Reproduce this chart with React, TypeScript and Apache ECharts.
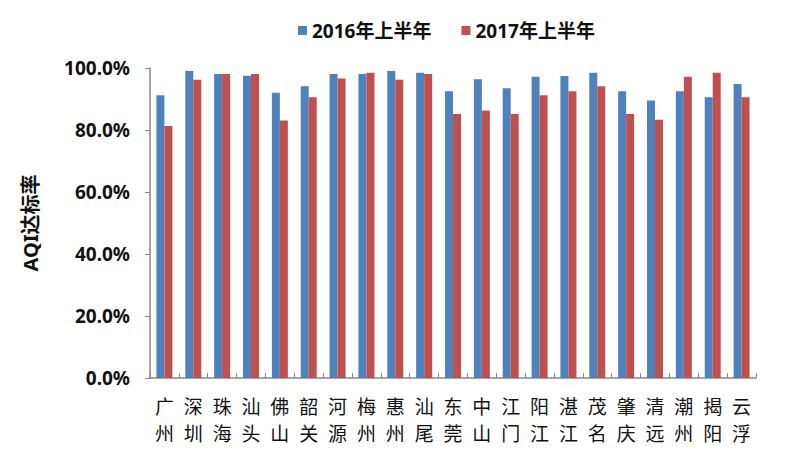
import React, { useEffect, useRef } from "react";
import * as echarts from "echarts";

const categories = [
  "广\n州", "深\n圳", "珠\n海", "汕\n头", "佛\n山", "韶\n关", "河\n源", "梅\n州", "惠\n州", "汕\n尾",
  "东\n莞", "中\n山", "江\n门", "阳\n江", "湛\n江", "茂\n名", "肇\n庆", "清\n远", "潮\n州", "揭\n阳", "云\n浮",
];
const series2016 = [91.2, 99.0, 98.1, 97.5, 92.0, 94.1, 98.1, 98.1, 99.0, 98.5, 92.5, 96.4, 93.5, 97.2, 97.4, 98.5, 92.5, 89.5, 92.5, 90.6, 94.8];
const series2017 = [81.3, 96.2, 98.1, 98.1, 83.1, 90.6, 96.6, 98.5, 96.2, 98.1, 85.2, 86.3, 85.2, 91.2, 92.5, 94.1, 85.2, 83.3, 97.2, 98.5, 90.6];
const seriesNames = ["2016年上半年", "2017年上半年"];
const yAxisName = "AQI达标率";

export default function App() {
  const ref = useRef<HTMLDivElement>(null);
  useEffect(() => {
    const chart = echarts.init(ref.current!, null, { renderer: "svg" });
    chart.setOption({
      animation: false,
      backgroundColor: "#ffffff",
      textStyle: { fontFamily: "'Noto Sans', 'Noto Sans CJK SC', sans-serif" },
      legend: {
        top: 16,
        left: 293,
        itemWidth: 9,
        itemHeight: 9,
        itemGap: 30,
        icon: "rect",
        textStyle: { fontSize: 19, fontWeight: "bold", color: "#111", fontFamily: "'Noto Sans', 'Noto Sans CJK SC', sans-serif" },
        data: seriesNames,
      },
      grid: { left: 150, right: 44, top: 68, bottom: 74, containLabel: false },
      xAxis: {
        type: "category",
        data: categories,
        axisLine: { lineStyle: { color: "#888888", width: 1.5 } },
        axisTick: { show: true, inside: true, length: 5, lineStyle: { color: "#888888" } },
        axisLabel: {
          interval: 0,
          margin: 14,
          fontSize: 19,
          lineHeight: 27,
          color: "#111",
          fontFamily: "'Noto Sans CJK SC', sans-serif",
        },
      },
      yAxis: {
        type: "value",
        min: 0,
        max: 100,
        interval: 20,
        name: yAxisName,
        nameLocation: "middle",
        nameGap: 110,
        nameRotate: 90,
        nameTextStyle: { fontSize: 20, fontWeight: "bold", color: "#111", fontFamily: "'Noto Sans', 'Noto Sans CJK SC', sans-serif" },
        axisLine: { show: true, lineStyle: { color: "#888888", width: 1.5 } },
        axisTick: { show: true, length: 5, lineStyle: { color: "#888888" } },
        splitLine: { show: false },
        axisLabel: {
          margin: 20,
          fontSize: 19,
          fontWeight: "bold",
          color: "#111",
          formatter: (v: number) => v.toFixed(1) + "%",
        },
      },
      series: [
        {
          name: seriesNames[0],
          type: "bar",
          data: series2016,
          barWidth: 8,
          barGap: "0%",
          itemStyle: { color: "#4F81BD" },
        },
        {
          name: seriesNames[1],
          type: "bar",
          data: series2017,
          barWidth: 8,
          barGap: "0%",
          itemStyle: { color: "#C0504D" },
        },
      ],
    });
    return () => chart.dispose();
  }, []);
  return <div ref={ref} style={{ width: 800, height: 452, position: "absolute", left: 0, top: 0 }} />;
}
